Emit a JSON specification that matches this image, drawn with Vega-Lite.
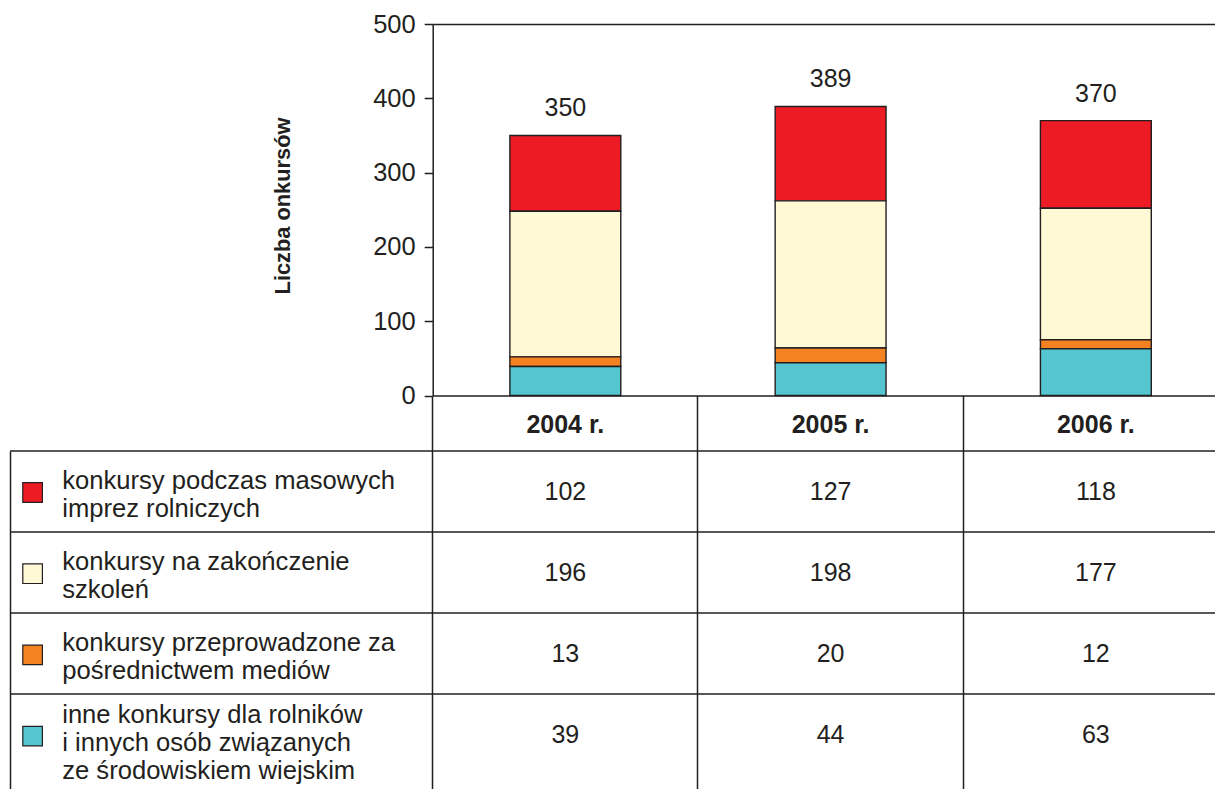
{
  "$schema": "https://vega.github.io/schema/vega-lite/v6.json",
  "width": 1205,
  "height": 789,
  "autosize": {"type": "none"},
  "padding": {"left": 10, "top": 0, "right": 0, "bottom": 0},
  "background": "white",
  "config": {
    "font": "Liberation Sans",
    "view": {"stroke": null},
    "axis": {"labelColor": "#231F20", "titleColor": "#231F20", "domainColor": "#231F20", "tickColor": "#231F20"}
  },
  "datasets": {
    "dane": [
      {"rok": "2004 r.", "kategoria": "konkursy podczas masowych\nimprez rolniczych", "lp": 1, "wartosc": 102},
      {"rok": "2004 r.", "kategoria": "konkursy na zakończenie\nszkoleń", "lp": 2, "wartosc": 196},
      {"rok": "2004 r.", "kategoria": "konkursy przeprowadzone za\npośrednictwem mediów", "lp": 3, "wartosc": 13},
      {"rok": "2004 r.", "kategoria": "inne konkursy dla rolników\ni innych osób związanych\nze środowiskiem wiejskim", "lp": 4, "wartosc": 39},
      {"rok": "2005 r.", "kategoria": "konkursy podczas masowych\nimprez rolniczych", "lp": 1, "wartosc": 127},
      {"rok": "2005 r.", "kategoria": "konkursy na zakończenie\nszkoleń", "lp": 2, "wartosc": 198},
      {"rok": "2005 r.", "kategoria": "konkursy przeprowadzone za\npośrednictwem mediów", "lp": 3, "wartosc": 20},
      {"rok": "2005 r.", "kategoria": "inne konkursy dla rolników\ni innych osób związanych\nze środowiskiem wiejskim", "lp": 4, "wartosc": 44},
      {"rok": "2006 r.", "kategoria": "konkursy podczas masowych\nimprez rolniczych", "lp": 1, "wartosc": 118},
      {"rok": "2006 r.", "kategoria": "konkursy na zakończenie\nszkoleń", "lp": 2, "wartosc": 177},
      {"rok": "2006 r.", "kategoria": "konkursy przeprowadzone za\npośrednictwem mediów", "lp": 3, "wartosc": 12},
      {"rok": "2006 r.", "kategoria": "inne konkursy dla rolników\ni innych osób związanych\nze środowiskiem wiejskim", "lp": 4, "wartosc": 63}
    ]
  },
  "data": {"name": "dane"},
  "layer": [
    {
      "mark": {"type": "bar", "stroke": "#231F20", "strokeWidth": 1.4, "width": {"band": 0.418}},
      "encoding": {
        "x": {
          "field": "rok", "type": "nominal",
          "scale": {"type": "band", "domain": ["2004 r.", "2005 r.", "2006 r."], "range": [422.7, 1218.5], "paddingInner": 0, "paddingOuter": 0},
          "axis": {
            "orient": "bottom", "offset": -393.5, "bandPosition": 0, "title": null,
            "domain": true, "domainWidth": 1.5,
            "ticks": true, "tickSize": 393.5, "tickWidth": 1.5,
            "labelOffset": 0, "labelPadding": -376.8, "labelAngle": 0,
            "labelFontSize": 25, "labelFontWeight": "bold", "grid": false
          }
        },
        "y": {
          "field": "wartosc", "type": "quantitative", "stack": "zero",
          "scale": {"domain": [0, 500], "range": [395.5, 24], "nice": false, "zero": true},
          "axis": {
            "orient": "left", "offset": -422.7, "values": [0, 100, 200, 300, 400, 500],
            "title": "Liczba onkursów", "titleFontSize": 21.8, "titleFontWeight": "bold",
            "titleX": -150.7, "titleY": 205.5, "titleAngle": -90, "titleAlign": "center", "titleBaseline": "middle",
            "domainWidth": 1.5, "tickWidth": 1.5, "tickSize": 8.5, "labelPadding": 9,
            "labelFontSize": 25.5, "grid": false
          }
        },
        "color": {
          "field": "kategoria", "type": "nominal",
          "scale": {
            "domain": [
              "konkursy podczas masowych\nimprez rolniczych",
              "konkursy na zakończenie\nszkoleń",
              "konkursy przeprowadzone za\npośrednictwem mediów",
              "inne konkursy dla rolników\ni innych osób związanych\nze środowiskiem wiejskim"
            ],
            "range": ["#ED1C24", "#FFF9D6", "#F58220", "#55C5CF"]
          },
          "legend": {
            "orient": "none", "legendX": 12.1, "legendY": 482, "title": null,
            "symbolType": "square", "symbolSize": 384, "symbolStrokeColor": "#231F20", "symbolStrokeWidth": 1.2,
            "symbolOpacity": 1, "labelExpr": "''", "labelFontSize": 0, "rowPadding": 56.2, "padding": 0,
            "direction": "vertical", "symbolOffset": 0, "labelOffset": 0
          }
        },
        "order": {"field": "lp", "sort": "descending"}
      }
    },
    {
      "mark": {"type": "text", "dy": -27, "fontSize": 25, "color": "#231F20"},
      "encoding": {
        "x": {
          "field": "rok", "type": "nominal",
          "scale": {"type": "band", "domain": ["2004 r.", "2005 r.", "2006 r."], "range": [422.7, 1218.5], "paddingInner": 0, "paddingOuter": 0},
          "axis": null
        },
        "y": {
          "aggregate": "sum", "field": "wartosc", "type": "quantitative",
          "scale": {"domain": [0, 500], "range": [395.5, 24], "nice": false, "zero": true},
          "axis": null
        },
        "text": {"aggregate": "sum", "field": "wartosc", "type": "quantitative"}
      }
    },
    {
      "mark": {"type": "text", "fontSize": 25, "color": "#231F20"},
      "encoding": {
        "x": {
          "field": "rok", "type": "nominal",
          "scale": {"type": "band", "domain": ["2004 r.", "2005 r.", "2006 r."], "range": [422.7, 1218.5], "paddingInner": 0, "paddingOuter": 0},
          "axis": {"orient": "top", "offset": -24, "domain": true, "domainWidth": 1.5, "ticks": false, "labels": false, "title": null, "grid": false}
        },
        "y": {
          "field": "kategoria", "type": "nominal",
          "scale": {
            "type": "band",
            "domain": [
              "konkursy podczas masowych\nimprez rolniczych",
              "konkursy na zakończenie\nszkoleń",
              "konkursy przeprowadzone za\npośrednictwem mediów",
              "inne konkursy dla rolników\ni innych osób związanych\nze środowiskiem wiejskim"
            ],
            "range": [451, 789], "paddingInner": 0, "paddingOuter": 0.0864, "align": 0
          },
          "axis": null
        },
        "text": {"field": "wartosc", "type": "quantitative"}
      }
    },
    {
      "transform": [{"filter": "datum.rok == '2004 r.'"}],
      "mark": {"type": "rule", "color": "#231F20", "strokeWidth": 1.5},
      "encoding": {
        "y": {
          "field": "kategoria", "type": "nominal", "bandPosition": 0,
          "scale": {
            "type": "band",
            "domain": [
              "konkursy podczas masowych\nimprez rolniczych",
              "konkursy na zakończenie\nszkoleń",
              "konkursy przeprowadzone za\npośrednictwem mediów",
              "inne konkursy dla rolników\ni innych osób związanych\nze środowiskiem wiejskim"
            ],
            "range": [451, 789], "paddingInner": 0, "paddingOuter": 0.0864, "align": 0
          },
          "axis": {
            "orient": "left", "offset": 0, "title": null,
            "domain": true, "domainWidth": 1.5,
            "ticks": false, "tickSize": 0, "grid": false,
            "labelAlign": "left", "labelBaseline": "middle", "labelPadding": -51.7,
            "labelOffset": {"condition": {"test": "indexof(datum.value, 'inne') == 0", "value": -20}, "value": -11},
            "labelFontSize": 25.6, "labelLineHeight": 28.3, "labelLimit": 0,
            "labelExpr": "split(datum.label, '\\n')"
          }
        }
      }
    }
  ],
  "resolve": {
    "scale": {"x": "independent", "y": "independent"},
    "axis": {"x": "independent", "y": "independent"}
  }
}
